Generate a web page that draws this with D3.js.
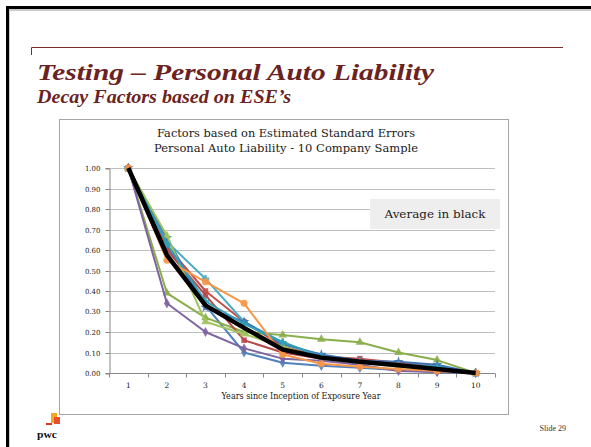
<!DOCTYPE html>
<html><head><meta charset="utf-8">
<script src="https://cdn.jsdelivr.net/npm/d3@7"></script>
<style>body{margin:0;background:#fff}svg{display:block}</style>
</head><body><svg id="c" width="591" height="447"></svg>
<script>
// ---- data ----
const years = [1,2,3,4,5,6,7,8,9,10];
const yTickValues = [0,0.1,0.2,0.3,0.4,0.5,0.6,0.7,0.8,0.9,1.0];
const co1 = [1,0.62,0.33,0.10,0.05,0.035,0.025,0.015,0.005,0];
const co2 = [1,0.62,0.40,0.25,0.13,0.08,0.07,0.05,0.03,0];
const co3 = [1,0.39,0.27,0.20,0.185,0.165,0.15,0.10,0.063,0];
const co4 = [1,0.34,0.20,0.12,0.07,0.06,0.04,0.01,0.005,0];
const co5 = [1,0.64,0.46,0.25,0.15,0.08,0.06,0.04,0.03,0];
const co6 = [1,0.55,0.445,0.34,0.09,0.045,0.03,0.02,0.01,0];
const co7 = [1,0.66,0.32,0.25,0.14,0.09,0.06,0.055,0.04,0];
const co8 = [1,0.60,0.38,0.16,0.10,0.07,0.06,0.04,0.02,0];
const co9 = [1,0.67,0.25,0.19,0.13,0.07,0.05,0.03,0.02,0];
const co10 = [1,0.63,0.35,0.24,0.15,0.08,0.05,0.04,0.03,0];
const average = [1,0.575,0.33,0.22,0.115,0.075,0.055,0.038,0.02,0];
const companies = [co1,co2,co3,co4,co5,co6,co7,co8,co9,co10];
const colors = ["#4F81BD","#C0504D","#8AAE4A","#8064A2","#4BACC6","#F79646","#3F72B5","#B8474A","#A2C45C","#2FA0B8"];
const markers = ["diamond","square","triangle","diamond","cross","circle","star","square","triangle","cross"];
// drawing order: purple and orange last so they sit on top at shared points
const seriesOrder = [0,1,2,4,6,7,8,9,3,5];

const titleText = "Testing \u2013 Personal Auto Liability";
const subtitleText = "Decay Factors based on ESE\u2019s";
const chartTitle = ["Factors based on Estimated Standard Errors","Personal Auto Liability - 10 Company Sample"];
const xTitle = "Years since Inception of Exposure Year";
const noteText = "Average in black";
const slideText = "Slide 29";

// ---- drawing ----
const svg = d3.select("#c");
const serif = "'DejaVu Serif', Georgia, serif";
const titleFont = "'Liberation Serif', Georgia, serif";
const maroon = "#6B2222";

// slide frame
svg.append("rect").attr("x",9).attr("y",10).attr("width",600).attr("height",460).attr("fill","none").attr("stroke","#bbb").attr("stroke-width",1.5);
svg.append("path").attr("d","M7.5,447 V7.5 H591").attr("fill","none").attr("stroke","#000").attr("stroke-width",3);

// maroon rule
svg.append("path").attr("d","M31.5,55 V47.5 H563").attr("fill","none").attr("stroke","#7A2A2A").attr("stroke-width",1);

svg.append("text").attr("x",37).attr("y",80).attr("font-family",titleFont).attr("font-weight","bold").attr("font-style","italic")
  .attr("font-size",24).attr("fill",maroon).attr("textLength",397).attr("lengthAdjust","spacingAndGlyphs").text(titleText);
svg.append("text").attr("x",37).attr("y",103).attr("font-family",titleFont).attr("font-weight","bold").attr("font-style","italic")
  .attr("font-size",18.5).attr("fill",maroon).attr("textLength",254).attr("lengthAdjust","spacingAndGlyphs").text(subtitleText);

// chart box
svg.append("rect").attr("x",59.5).attr("y",119.5).attr("width",449).attr("height",295).attr("fill","#fff").attr("stroke","#a6a6a6").attr("stroke-width",1);

svg.selectAll(".ct").data(chartTitle).join("text").attr("x",286).attr("y",(d,i)=>137+i*15)
  .attr("text-anchor","middle").attr("font-family",serif).attr("font-size",11.5).attr("fill","#1a1a1a")
  .attr("textLength",(d,i)=>i===0?258:264).attr("lengthAdjust","spacingAndGlyphs").text(d=>d);

const x = d3.scaleBand().domain(years).range([109,495]);
const y = d3.scaleLinear().domain([0,1]).range([373,168]);
const cx = d => x(d)+x.bandwidth()/2;

// gridlines
svg.append("g").selectAll("line").data(yTickValues.slice(1)).join("line")
  .attr("x1",109).attr("x2",495).attr("y1",d=>Math.round(y(d))+0.5).attr("y2",d=>Math.round(y(d))+0.5)
  .attr("stroke","#bfbfbf").attr("stroke-width",1);

// y axis
const yAxis = svg.append("g").attr("transform","translate(109.5,0.5)")
  .call(d3.axisLeft(y).tickValues(yTickValues).tickFormat(d3.format(".2f")).tickSize(4).tickPadding(5));
yAxis.select(".domain").attr("stroke","#868686");
yAxis.selectAll(".tick line").attr("stroke","#868686");
yAxis.selectAll("text").attr("font-family",serif).attr("font-size",7).attr("fill","#222");
yAxis.selectAll(".tick").attr("transform",d=>`translate(0,${Math.round(y(d))})`);

// x axis
const xg = svg.append("g").attr("transform","translate(0,373.5)");
xg.append("line").attr("x1",109).attr("x2",495).attr("stroke","#868686");
xg.selectAll(".tk").data(years.concat([11])).join("line").attr("class","tk")
  .attr("x1",d=>Math.round(d===11? x.range()[1] : x(d))+0.5).attr("x2",d=>Math.round(d===11? x.range()[1] : x(d))+0.5)
  .attr("y1",0).attr("y2",4).attr("stroke","#868686");
xg.selectAll("text").data(years).join("text").attr("x",d=>cx(d)).attr("y",14)
  .attr("text-anchor","middle").attr("font-family",serif).attr("font-size",7.5).attr("fill","#222").text(d=>d);

svg.append("text").attr("x",301).attr("y",399).attr("text-anchor","middle").attr("font-family",serif)
  .attr("font-size",8.5).attr("fill","#222").attr("textLength",159).attr("lengthAdjust","spacingAndGlyphs").text(xTitle);

// note box
svg.append("rect").attr("x",370).attr("y",199).attr("width",130).attr("height",30).attr("fill","#eeeeee");
svg.append("text").attr("x",435).attr("y",218).attr("text-anchor","middle").attr("font-family",serif)
  .attr("font-size",11).attr("fill","#222").attr("textLength",101).attr("lengthAdjust","spacingAndGlyphs").text(noteText);

// series
const line = d3.line().x((d,i)=>cx(years[i])).y(d=>y(d));
const symTypes = {diamond:d3.symbolDiamond,square:d3.symbolSquare,triangle:d3.symbolTriangle,cross:d3.symbolCross,circle:d3.symbolCircle,star:d3.symbolStar};
const symSize = {diamond:30,square:30,triangle:32,cross:30,circle:40,star:34};
const sg = svg.append("g");
seriesOrder.forEach(k=>{
  const vals = companies[k];
  sg.append("path").attr("d",line(vals)).attr("fill","none").attr("stroke",colors[k]).attr("stroke-width",2).attr("stroke-linejoin","round");
  sg.append("g").selectAll("path").data(vals).join("path")
    .attr("transform",(d,i)=>`translate(${cx(years[i])},${y(d)})`)
    .attr("d",d3.symbol().type(symTypes[markers[k]]).size(symSize[markers[k]]))
    .attr("fill",colors[k]).attr("fill-opacity",0.9);
});
svg.append("path").attr("d",line(average)).attr("fill","none").attr("stroke","#000").attr("stroke-width",4.5).attr("stroke-linejoin","round");

// footer
svg.append("text").attr("x",566).attr("y",431).attr("text-anchor","end").attr("font-family",titleFont).attr("font-size",8).attr("fill","#333").text(slideText);
const logo = svg.append("g");
logo.append("rect").attr("x",51).attr("y",413).attr("width",6).attr("height",10).attr("fill","#F5A623");
logo.append("rect").attr("x",54).attr("y",417).attr("width",6).attr("height",7).attr("fill","#E8502B");
logo.append("rect").attr("x",46).attr("y",423).attr("width",6).attr("height",2).attr("fill","#D9381E");
logo.append("text").attr("x",37).attr("y",438).attr("font-family",titleFont).attr("font-weight","bold").attr("font-size",11).attr("fill","#111").attr("textLength",20).attr("lengthAdjust","spacingAndGlyphs").text("pwc");
</script></body></html>
